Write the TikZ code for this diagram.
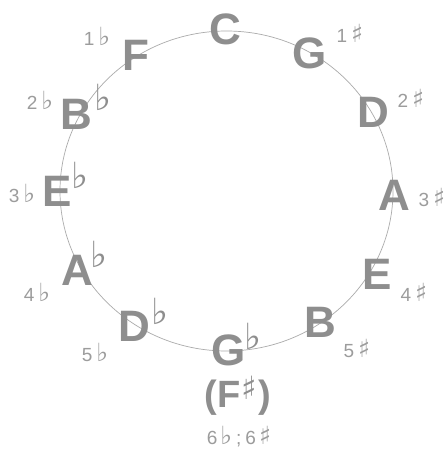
\documentclass[tikz,border=0pt]{standalone}
\usepackage{fontspec}
\setmainfont{Liberation Sans}
\newfontfamily\symfont{DejaVu Sans}
\definecolor{notegray}{HTML}{8E8E8E}
\definecolor{labelgray}{HTML}{9C9C9C}
\definecolor{ringgray}{HTML}{ABABAB}
\tikzset{
  note/.style={font=\fontsize{44}{44}\selectfont\bfseries, text=notegray, inner sep=0pt},
  accid/.style={font=\symfont\fontsize{36}{36}\selectfont, text=notegray, inner sep=0pt},
  keylabel/.style={font=\fontsize{19}{19}\selectfont, text=labelgray, inner sep=0pt},
  ring/.style={draw=ringgray, line width=0.7pt}
}
\newcommand{\flt}{{\symfont\fontsize{25}{25}\selectfont ♭}}
\newcommand{\shp}{{\symfont\fontsize{25}{25}\selectfont ♯}}
\begin{document}
\begin{tikzpicture}[x=1pt, y={(0pt,-1pt)}]
\useasboundingbox[fill=white] (0,0) rectangle (446,449);
\coordinate (ctr) at (226.5,191);
\draw[ring] (ctr) ellipse [x radius=166.5, y radius=160];
% notes
\node[note] (C) at (225,29) {C};
\node[note] (G) at (310,53) {G};
\node[note] (D) at (373,112) {D};
\node[note] (A) at (394,195) {A};
\node[note] (E) at (377,274) {E};
\node[note] (B) at (320,322) {B};
\node[note] (Gb) at (229,350) {G};
\node[accid] (Gbf) at (253,336) {♭};
\node[note] (Db) at (134,326) {D};
\node[accid] (Dbf) at (160,311) {♭};
\node[note] (Ab) at (77,270) {A};
\node[accid] (Abf) at (99,254) {♭};
\node[note] (Eb) at (57,191) {E};
\node[accid] (Ebf) at (80,175) {♭};
\node[note] (Bb) at (76,114) {B};
\node[accid] (Bbf) at (103,97) {♭};
\node[note] (F) at (136,55) {F};
% enharmonic
\node[note, font=\fontsize{38}{38}\selectfont\bfseries] (Fs) at (238,396)
  {(F\hspace{1pt}\raisebox{8pt}{\symfont\fontsize{32}{32}\selectfont ♯}\hspace{2pt})};
% key signature labels
\node[keylabel] (l1b) at (97,36) {1\hspace{4pt}\flt};
\node[keylabel] (l2b) at (40,100) {2\hspace{4pt}\flt};
\node[keylabel] (l3b) at (22,193) {3\hspace{4pt}\flt};
\node[keylabel] (l4b) at (37,292) {4\hspace{4pt}\flt};
\node[keylabel] (l5b) at (95,352) {5\hspace{4pt}\flt};
\node[keylabel] (l1s) at (350,33) {1\hspace{4pt}\shp};
\node[keylabel] (l2s) at (411,98) {2\hspace{4pt}\shp};
\node[keylabel] (l3s) at (432,197) {3\hspace{4pt}\shp};
\node[keylabel] (l4s) at (414,292) {4\hspace{4pt}\shp};
\node[keylabel] (l5s) at (357,348) {5\hspace{4pt}\shp};
\node[keylabel] (l6) at (239,437) {6\hspace{3pt}\flt\hspace{4pt};\hspace{4pt}6\hspace{3pt}\shp};
\end{tikzpicture}
\end{document}
